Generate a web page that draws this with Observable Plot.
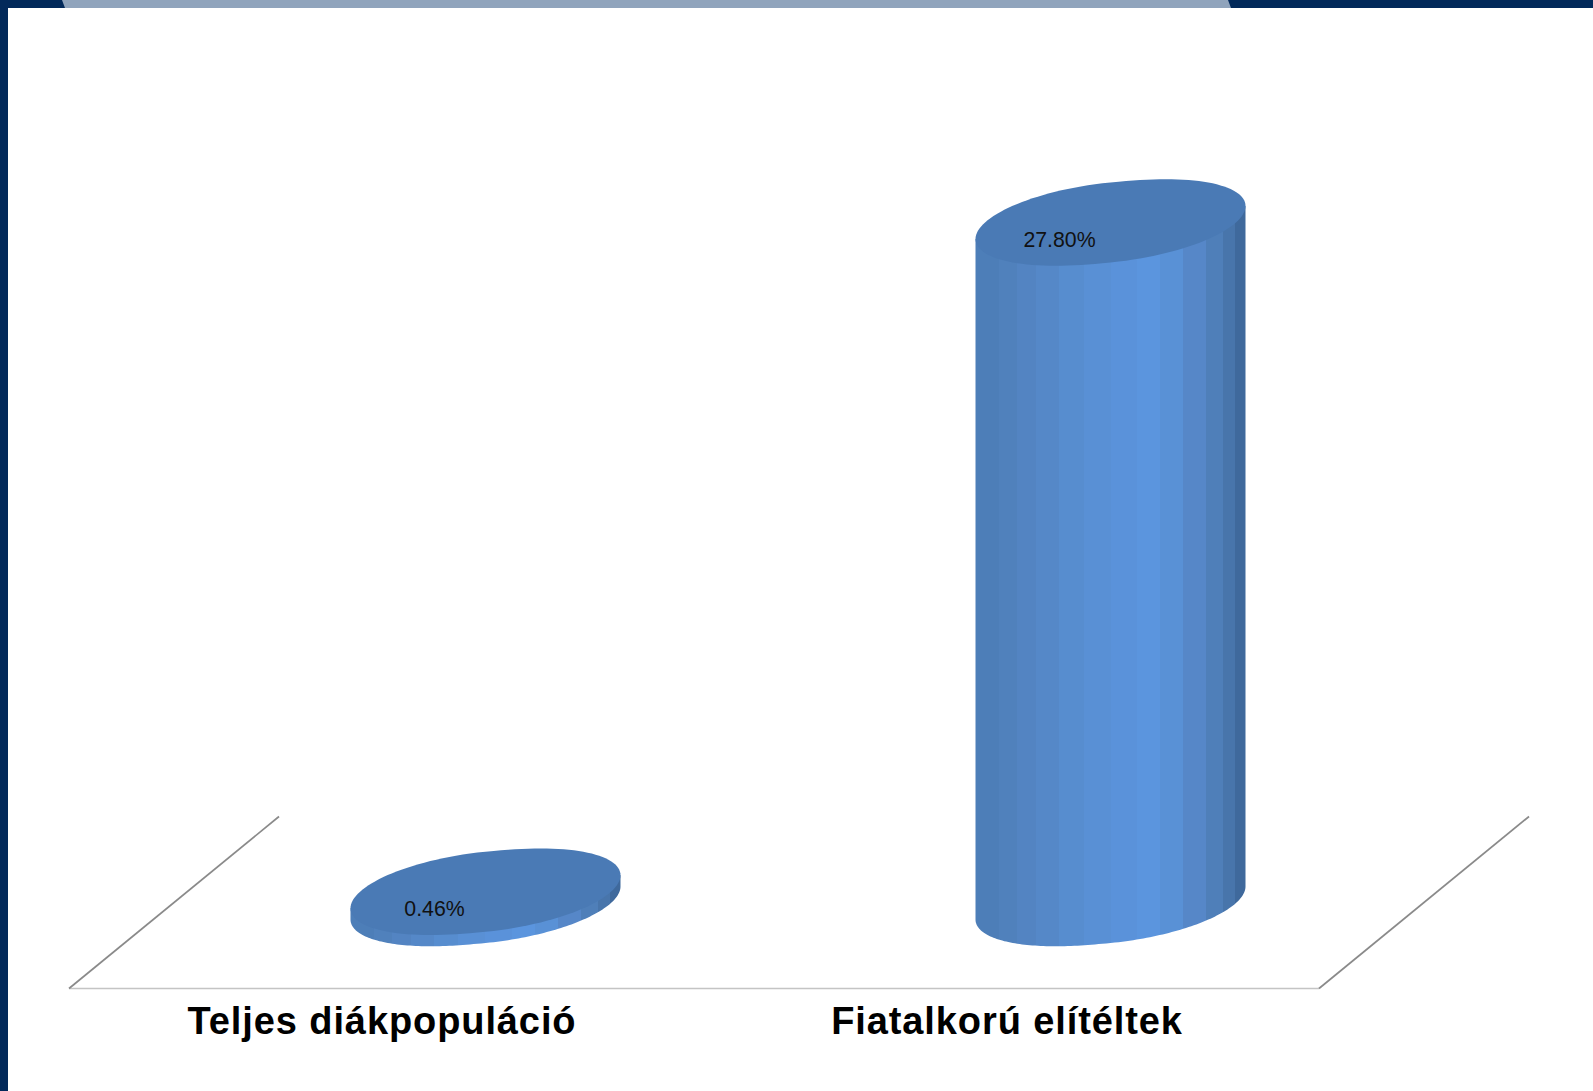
<!DOCTYPE html>
<html lang="hu">
<head>
<meta charset="utf-8">
<script src="https://cdn.jsdelivr.net/npm/d3@7"></script>
<script src="https://cdn.jsdelivr.net/npm/@observablehq/plot@0.6"></script>
<style>
html,body{margin:0;padding:0;background:#fff;width:1593px;height:1091px;overflow:hidden}
#chart{position:absolute;left:0;top:0}
#chart svg{display:block;background:transparent}
#chart [aria-label="x-axis tick label"] text{letter-spacing:.9px}
.chrome{position:absolute;z-index:2}
</style>
</head>
<body>
<div class="chrome" style="left:0;top:0;width:1593px;height:8px;background:#02295a"></div>
<div class="chrome" style="left:0;top:0;width:8px;height:1091px;background:#02295a"></div>
<div class="chrome" style="left:0;top:0;width:1593px;height:8px;background:#90a4bc;clip-path:polygon(62px 0,1228px 0,1231px 8px,65px 8px)"></div>
<div id="chart"></div>
<script>
const categories = ["Teljes diákpopuláció", "Fiatalkorú elítéltek"];
const values = [0.46, 27.8];
const valueLabels = ["0.46%", "27.80%"];
const rows = categories.map((category, i) => ({category, value: values[i], label: valueLabels[i]}));

const faceBands = [
  [0.087, "#4d7eb8"], [0.155, "#5081bc"], [0.223, "#5384c2"], [0.309, "#5588c8"],
  [0.40, "#578dcf"], [0.50, "#5990d5"], [0.598, "#5a92da"], [0.684, "#5b95de"],
  [0.77, "#5991d6"], [0.852, "#5687c8"], [0.918, "#4f7fb9"], [0.96, "#4875ab"], [1, "#3f699c"]
];
const capColor = "#4a7ab5";
const depthX = 104, halfWidth = 135, capTilt = 16.5, capOpen = 40, blunt = 0.93;

function sheared(cx, cy, from, to) {
  return d3.range(0, 129).map(k => {
    const t = from + (to - from) * k / 128;
    const c = Math.cos(t);
    return [cx + halfWidth * Math.sign(c) * Math.pow(Math.abs(c), blunt), cy - capTilt * c + capOpen * Math.sin(t)];
  });
}

function cylinders(index, scales, channels, dimensions) {
  const g = d3.create("svg:g");
  const grad = g.append("defs").append("linearGradient").attr("id", "face");
  let start = 0;
  faceBands.forEach(([end, c]) => {
    grad.append("stop").attr("offset", start).attr("stop-color", c);
    grad.append("stop").attr("offset", end).attr("stop-color", c);
    start = end;
  });
  const path = d3.line();
  for (const i of index) {
    const d = rows[i];
    const cx = scales.x(d.category) + scales.x.bandwidth() / 2 + depthX;
    const top = scales.y(d.value), base = scales.y(0);
    const lower = sheared(cx, base, 0, Math.PI);
    const upper = sheared(cx, top, Math.PI, 0);
    g.append("path").attr("d", path([...lower, upper[0], upper[128]]) + "Z").attr("fill", "url(#face)");
    g.append("path").attr("d", path(sheared(cx, top, 0, 2 * Math.PI)) + "Z").attr("fill", capColor);
  }
  return g.node();
}

function floor(index, scales, channels, dimensions) {
  const g = d3.create("svg:g").attr("fill", "none");
  const [x0, x1] = scales.x.range();
  const y0 = 988.5, dx = 210, dy = 172;
  g.append("line").attr("x1", x0).attr("x2", x1).attr("y1", y0).attr("y2", y0).attr("stroke", "#c4c4c4").attr("stroke-width", 1.4);
  for (const x of [x0, x1]) {
    g.append("line").attr("x1", x).attr("x2", x + dx).attr("y1", y0).attr("y2", y0 - dy).attr("stroke", "#8a8a8a").attr("stroke-width", 1.7);
  }
  return g.node();
}

const chart = Plot.plot({
  width: 1593,
  height: 1091,
  margin: 0,
  style: {background: "transparent"},
  x: {type: "band", domain: categories, range: [69, 1319], padding: 0, label: null},
  y: {domain: [0, 30], range: [903, 168.6], axis: null},
  marks: [
    Plot.barY(rows, {x: "category", y: "value", fill: capColor, render: floor}),
    Plot.barY(rows, {x: "category", y: "value", fill: capColor, render: cylinders}),
    Plot.axisX({
      anchor: "bottom", label: null, tickSize: 0, tickPadding: 0,
      fontSize: 38, fontWeight: "bold", fontFamily: "Liberation Sans", fill: "#000",
      textAnchor: "middle", lineAnchor: "middle", dy: -70
    }),
    Plot.text(rows, {
      x: "category", y: "value", text: "label",
      dx: 52.5, dy: 17,
      fontSize: 21.3, fontFamily: "Liberation Sans", fill: "#111", textAnchor: "middle"
    })
  ]
});
document.getElementById("chart").append(chart);
</script>
</body>
</html>
